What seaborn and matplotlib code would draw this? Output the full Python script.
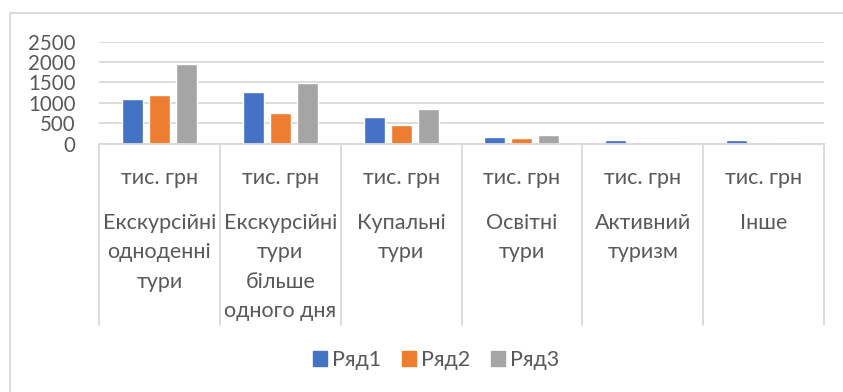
import matplotlib
matplotlib.use("Agg")
import matplotlib.pyplot as plt
import seaborn as sns
import pandas as pd
from matplotlib.patches import Rectangle

# Tour categories (outer level) and unit (inner level) of the category axis
categories = ["Екскурсійні\nодноденні\nтури", "Екскурсійні\nтури\nбільше\nодного дня",
              "Купальні\nтури", "Освітні\nтури", "Активний\nтуризм", "Інше"]
unit_label = "тис. грн"
series_names = ["Ряд1", "Ряд2", "Ряд3"]
row1 = [1090, 1260, 645, 172, 82, 82]
row2 = [1185, 745, 466, 139, 41, 0]
row3 = [1960, 1487, 850, 212, 40, 30]
y_ticks = [0, 500, 1000, 1500, 2000, 2500]

colors = ["#4472C4", "#ED7D31", "#A5A5A5"]
text_color = "#595959"
grid_color = "#D9D9D9"

sns.set_theme(style="white")
plt.rcParams["font.family"] = ["Lato", "DejaVu Sans"]

W, H = 843, 392
AX_BOTTOM, AX_HEIGHT = 248.3, 102.0


def px_to_axes_y(y_from_top):
    return (H - y_from_top - AX_BOTTOM) / AX_HEIGHT


df = pd.DataFrame({
    "cat": categories * 3,
    "series": [s for s in series_names for _ in categories],
    "value": row1 + row2 + row3,
})

fig = plt.figure(figsize=(W / 100, H / 100), dpi=100)
ax = fig.add_axes([99 / W, AX_BOTTOM / H, (824 - 99) / W, AX_HEIGHT / H])

sns.barplot(data=df, x="cat", y="value", hue="series", order=categories,
            hue_order=series_names, palette=colors, width=0.67, gap=0.22,
            saturation=1, ax=ax, legend=False)

ax.set_ylim(0, 2500)
ax.set_xlim(-0.5, len(categories) - 0.5)
ax.set_yticks(y_ticks)
ax.set_yticklabels([str(t) for t in y_ticks], fontsize=14.8, color=text_color)
ax.tick_params(axis="y", length=0, pad=17)
ax.set_xticks([])
ax.set_xlabel("")
ax.set_ylabel("")
for sp in ax.spines.values():
    sp.set_visible(False)
ax.grid(axis="y", color=grid_color, linewidth=1.3)
ax.set_axisbelow(True)

# Category axis: baseline, group separators and two-level labels
trans = ax.get_xaxis_transform()
ax.plot([-0.5, len(categories) - 0.5], [0, 0], transform=trans, color=grid_color,
        linewidth=1.3, clip_on=False)
for b in [i - 0.5 for i in range(len(categories) + 1)]:
    ax.plot([b, b], [0, px_to_axes_y(325)], transform=trans, color=grid_color,
            linewidth=1.3, clip_on=False)
for i, name in enumerate(categories):
    ax.text(i, px_to_axes_y(178), unit_label, transform=trans, ha="center",
            va="center", fontsize=15.5, color=text_color)
    for k, line in enumerate(name.split("\n")):
        ax.text(i, px_to_axes_y(223 + 29.3 * k), line, transform=trans,
                ha="center", va="center", fontsize=15.5, color=text_color)

# Legend
handles = [Rectangle((0, 0), 1, 1, color=c) for c in colors]
fig.legend(handles, series_names, loc="center", bbox_to_anchor=(436 / W, 1 - 360 / H),
           ncol=3, frameon=False, fontsize=15.5, handlelength=0.65, handleheight=0.65,
           handletextpad=0.25, columnspacing=0.95, labelcolor=text_color)

# Chart frame
fig.patches.append(Rectangle((10 / W, -0.1), 1.2, 1 - 13 / H + 0.1,
                             transform=fig.transFigure, fill=False,
                             edgecolor=grid_color, linewidth=1.3))

fig.savefig("out.png", dpi=100)
